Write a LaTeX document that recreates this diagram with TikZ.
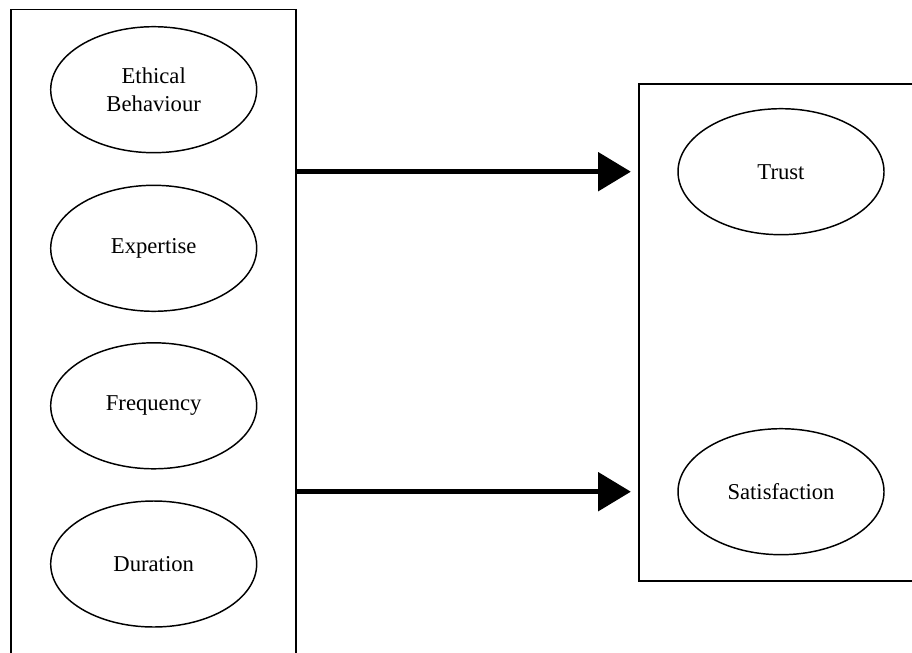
\documentclass[tikz,border=0pt]{standalone}
\usepackage{fontspec}
\setmainfont{Liberation Serif}
\usetikzlibrary{arrows.meta,shapes.geometric}

\tikzset{every picture/.style={line width=0.75pt}}
\tikzset{
  factor/.style={draw,ellipse,line width=1.1pt,minimum width=154.5pt,minimum height=94.5pt,inner sep=0pt,align=center,font=\fontsize{17}{21}\selectfont},
  group/.style={draw,rectangle,line width=1.3pt,inner sep=0pt},
  bigarrow/.style={line width=3.75pt,-{Triangle[length=24.5pt,width=28.5pt]},shorten >=5.25pt}
}

\begin{document}
\begin{tikzpicture}[x=0.75pt,y=0.75pt,yscale=-1,xscale=1]
%set diagram left start at 0, and has height of 652
\useasboundingbox (0,0) rectangle (912,652);

%Shape: Rectangle [antecedents]
\node [group,minimum width=214pt,minimum height=497pt] (antecedents) at (153.4,340.8) {};
%Shape: Rectangle [outcomes]
\node [group,minimum width=218.5pt,minimum height=372.5pt] (outcomes) at (784.4,332.4) {};

% Ellipse Nodes
\node [factor] (ethical) at (153.7,89.7) {Ethical\\Behaviour};
\node [factor] (expertise) at (153.7,248.3) {Expertise};
\node [factor] (frequency) at (153.7,405.8) {Frequency};
\node [factor] (duration) at (153.7,564) {Duration};
\node [factor] (trust) at (781,171.7) {Trust};
\node [factor] (satisfaction) at (781,491.7) {Satisfaction};

% Arrows
\draw [bigarrow] (antecedents.east |- trust) -- (outcomes.west |- trust);
\draw [bigarrow] (antecedents.east |- satisfaction) -- (outcomes.west |- satisfaction);

\end{tikzpicture}
\end{document}
